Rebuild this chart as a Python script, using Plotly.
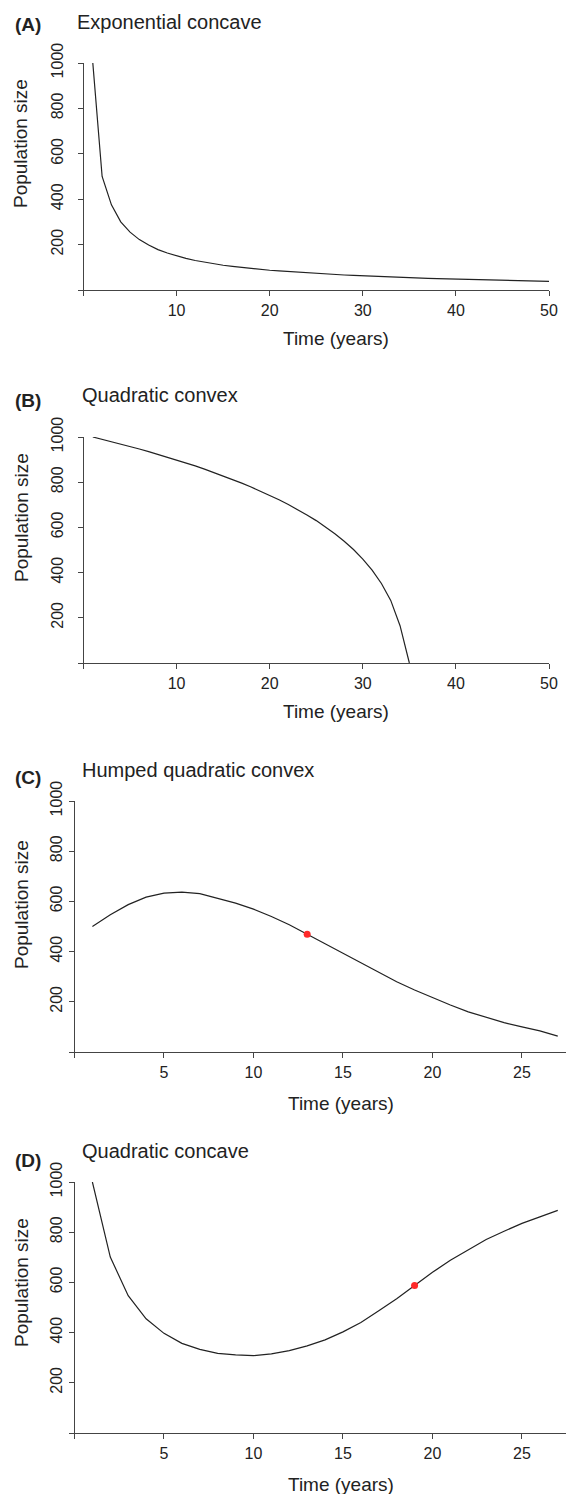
import plotly.graph_objects as go

# ---------------- data ----------------
time_a = list(range(1, 51))
pop_a = [1000, 500, 375, 300, 255, 222, 198, 178, 163, 150,
         139, 130, 122, 115, 109, 104, 99, 95, 91, 87,
         84, 81, 78, 75, 73, 70, 68, 66, 64, 62,
         60, 58, 57, 55, 54, 53, 51, 50, 49, 48,
         47, 46, 45, 44, 43, 42, 41, 40, 39, 38]

time_b = list(range(1, 36))
pop_b = [1000, 990, 980, 970, 958, 947, 935, 923, 911, 898,
         885, 872, 858, 843, 828, 812, 796, 779, 761, 742,
         722, 701, 679, 655, 630, 602, 572, 539, 502, 460,
         411, 352, 277, 165, 0]

time_c = list(range(1, 28))
pop_c = [500, 547, 587, 617, 633, 637, 631, 613, 593, 569,
         540, 507, 469, 431, 393, 353, 316, 280, 247, 216,
         187, 160, 137, 117, 100, 84, 63]
mark_c = 13

time_d = list(range(1, 28))
pop_d = [1000, 701, 547, 455, 397, 357, 333, 317, 311, 308,
         315, 328, 347, 371, 403, 440, 487, 535, 588, 640,
         688, 731, 771, 804, 835, 861, 887]
mark_d = 19

titles = ["Exponential concave", "Quadratic convex",
          "Humped quadratic convex", "Quadratic concave"]
letters = ["(A)", "(B)", "(C)", "(D)"]
x_ticks_50 = [0, 10, 20, 30, 40, 50]
x_ticks_25 = [0, 5, 10, 15, 20, 25]
y_ticks = [0, 200, 400, 600, 800, 1000]

# ---------------- layout geometry (pixels) ----------------
W, H = 566, 1494
FONT = "Liberation Sans, Arial, Helvetica, sans-serif"
INK = "#222222"
AXC = "#444444"

panels = [
    dict(x0=83.5, x1=549, xmax=50, yb=290, yt=63, xt=x_ticks_50, yso=8),
    dict(x0=83.5, x1=549, xmax=50, yb=663, yt=437, xt=x_ticks_50, yso=8),
    dict(x0=74.5, x1=566, xmax=27.46, yb=1052, yt=801, xt=x_ticks_25, yso=0),
    dict(x0=74.5, x1=566, xmax=27.46, yb=1433, yt=1182, xt=x_ticks_25, yso=0),
]
series = [(time_a, pop_a, None), (time_b, pop_b, None),
          (time_c, pop_c, mark_c), (time_d, pop_d, mark_d)]

fig = go.Figure()
layout = dict(template="none", width=W, height=H,
              margin=dict(l=0, r=0, t=0, b=0, autoexpand=False),
              paper_bgcolor="white", plot_bgcolor="white",
              showlegend=False, font=dict(family=FONT, color=INK))
annotations = []

def px(x):
    return x / W

def py(y):
    return 1 - y / H

title_pos = [(75, 22), (80, 395), (80, 770), (80, 1151)]
letter_pos = [(13, 25), (13, 400), (13, 777), (13, 1160)]
ylab_pos = [(21, 144), (21, 518), (21, 905), (21, 1283)]
xlab_pos = [(336, 338), (336, 712), (341, 1103), (341, 1484)]

for i, (p, (t, v, mk)) in enumerate(zip(panels, series)):
    n = "" if i == 0 else str(i + 1)
    xa, ya = "x" + n, "y" + n
    fig.add_trace(go.Scatter(x=t, y=v, mode="lines",
                             line=dict(color=INK, width=1.2),
                             xaxis=xa, yaxis=ya, hoverinfo="skip"))
    if mk is not None:
        fig.add_trace(go.Scatter(x=[mk], y=[v[t.index(mk)]], mode="markers",
                                 marker=dict(color="#ff2a2a", size=7),
                                 xaxis=xa, yaxis=ya, hoverinfo="skip"))
    layout["xaxis" + n] = dict(
        domain=[px(p["x0"]), px(p["x1"])], range=[0, p["xmax"]],
        anchor=ya, showgrid=False, zeroline=False, automargin=False,
        showline=True, linecolor=AXC, linewidth=1,
        ticks="outside", ticklen=5, tickwidth=1, tickcolor=AXC,
        tickvals=p["xt"], ticktext=[""] + [str(k) for k in p["xt"][1:]],
        tickfont=dict(size=16, color=INK, family=FONT),
        ticklabelstandoff=1)
    layout["yaxis" + n] = dict(
        domain=[py(p["yb"]), py(p["yt"])], range=[0, 1000],
        anchor=xa, showgrid=False, zeroline=False, automargin=False,
        showline=True, linecolor=AXC, linewidth=1,
        ticks="outside", ticklen=5, tickwidth=1, tickcolor=AXC,
        tickvals=y_ticks, ticktext=[""] + [str(k) for k in y_ticks[1:]],
        tickangle=-90,
        tickfont=dict(size=16, color=INK, family=FONT),
        ticklabelstandoff=p["yso"])

    annotations.append(dict(text=titles[i], x=px(title_pos[i][0]), y=py(title_pos[i][1]),
                            xref="paper", yref="paper", xanchor="left", yanchor="middle",
                            showarrow=False, font=dict(size=20, color=INK, family=FONT)))
    annotations.append(dict(text="<b>" + letters[i] + "</b>", x=px(letter_pos[i][0]),
                            y=py(letter_pos[i][1]), xref="paper", yref="paper",
                            xanchor="left", yanchor="middle", showarrow=False,
                            font=dict(size=19, color=INK, family=FONT)))
    annotations.append(dict(text="Population size", x=px(ylab_pos[i][0]), y=py(ylab_pos[i][1]),
                            xref="paper", yref="paper", xanchor="center", yanchor="middle",
                            textangle=-90, showarrow=False,
                            font=dict(size=19, color=INK, family=FONT)))
    annotations.append(dict(text="Time (years)", x=px(xlab_pos[i][0]), y=py(xlab_pos[i][1]),
                            xref="paper", yref="paper", xanchor="center", yanchor="middle",
                            showarrow=False, font=dict(size=19, color=INK, family=FONT)))

layout["annotations"] = annotations
fig.update_layout(**layout)
fig.write_html("out.html",
               config={"displayModeBar": False},
               post_script="document.body.style.margin='0';"
                           "document.body.style.padding='0';"
                           "document.body.style.overflow='hidden';")
